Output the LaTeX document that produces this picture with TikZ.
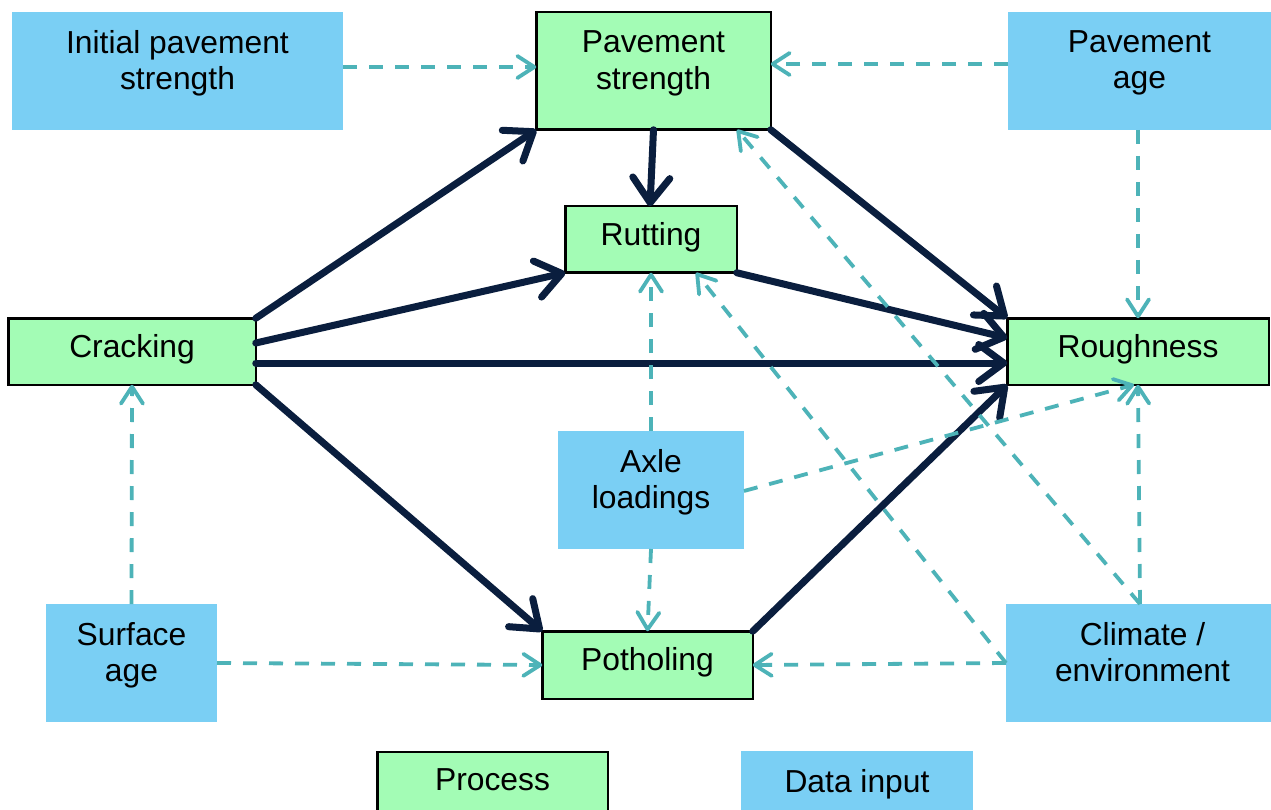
\documentclass[tikz,border=0pt]{standalone}
\usepackage{fontspec}
\setmainfont{Liberation Sans}
\usetikzlibrary{arrows.meta}
\definecolor{procgreen}{RGB}{163,252,181}
\definecolor{datablue}{RGB}{122,207,244}
\definecolor{navyarrow}{RGB}{10,30,62}
\definecolor{tealdash}{RGB}{77,179,184}
\tikzset{
  boxbase/.style={rectangle, outer sep=0pt, inner sep=0pt},
  procbox/.style={boxbase, fill=procgreen, draw=black, line width=2.5pt},
  databox/.style={boxbase, fill=datablue},
  boxtext/.style={font=\fontsize{31.8}{36.5}\selectfont, align=center, anchor=north, inner sep=0pt, text=black},
  causal/.style={draw=navyarrow, line width=7pt, line cap=round, -{Straight Barb[length=25pt,width=37pt,round]}},
  influence/.style={draw=tealdash, line width=3.8pt, dash pattern=on 14pt off 12pt, -{Straight Barb[length=17pt,width=22pt,round]}},
}
\begin{document}
\begin{tikzpicture}[x=1pt,y=-1pt]
\useasboundingbox (0,0) rectangle (1271,810);
\clip (0,0) rectangle (1271,810);
\fill[white] (0,0) rectangle (1271,810);

% data input boxes
\node[databox, minimum width=331pt, minimum height=118pt] (init) at (177.5,71) {};
\node[databox, minimum width=263pt, minimum height=118pt] (page) at (1139.5,71) {};
\node[databox, minimum width=186pt, minimum height=118pt] (axle) at (651,490) {};
\node[databox, minimum width=171pt, minimum height=118pt] (surf) at (131.5,663) {};
\node[databox, minimum width=265pt, minimum height=118pt] (clim) at (1138.5,663) {};
\node[databox, minimum width=232pt, minimum height=69pt] (legdata) at (857,785.5) {};

% process boxes
\node[procbox, minimum width=234.5pt, minimum height=117.5pt] (ps) at (653.5,71) {};
\node[procbox, minimum width=171.5pt, minimum height=66.5pt] (rut) at (651,239.5) {};
\node[procbox, minimum width=247.5pt, minimum height=66.5pt] (crack) at (132,351.5) {};
\node[procbox, minimum width=261.5pt, minimum height=66.5pt] (rough) at (1138,351.5) {};
\node[procbox, minimum width=210.5pt, minimum height=67.5pt] (poth) at (647.5,665) {};
\node[procbox, minimum width=230.5pt, minimum height=69pt] (legproc) at (492.5,786.5) {};

% causal (process) connectors
\draw[causal] (crack.north east) -- (ps.south west);
\draw[causal] ([yshift=8.5pt]crack.east) -- (rut.south west);
\draw[causal] ([yshift=-11.5pt]crack.east) -- ([yshift=-11.5pt]rough.west);
\draw[causal] (crack.south east) -- (poth.north west);
\draw[causal] (ps.south) -- ([xshift=-1pt]rut.north);
\draw[causal] (ps.south east) -- (rough.north west);
\draw[causal] (rut.south east) -- ([yshift=13.5pt]rough.west);
\draw[causal] (poth.north east) -- (rough.south west);

% data input connectors
\draw[influence] ([yshift=4pt]init.east) -- ([yshift=4pt]ps.west);
\draw[influence] ([yshift=7pt]page.west) -- ([yshift=7pt]ps.east);
\draw[influence] ([xshift=-1.5pt]page.south) -- (rough.north);
\draw[influence] (axle.north) -- (rut.south);
\draw[influence] (axle.south) -- (poth.north);
\draw[influence] ([yshift=-1pt]axle.east) -- ([xshift=-4pt]rough.south);
\draw[influence] ([xshift=1.5pt]clim.north) -- (rough.south);
\draw[influence] ([xshift=1.5pt]clim.north) -- ([xshift=83.5pt]ps.south);
\draw[influence] (clim.west) -- ([xshift=45pt]rut.south);
\draw[influence] (clim.west) -- (poth.east);
\draw[influence] (surf.north) -- (crack.south);
\draw[influence] (surf.east) -- (poth.west);

% texts
\node[boxtext] (init-t) at ([yshift=-18pt]init.north) {Initial pavement\\strength};
\node[boxtext] (page-t) at ([yshift=-18pt]page.north) {Pavement\\age};
\node[boxtext] (axle-t) at ([yshift=-18pt]axle.north) {Axle\\loadings};
\node[boxtext] (surf-t) at ([yshift=-18pt]surf.north) {Surface\\age};
\node[boxtext] (clim-t) at ([xshift=4pt,yshift=-18pt]clim.north) {Climate /\\environment};
\node[boxtext] (legdata-t) at ([yshift=-18pt]legdata.north) {Data input};
\node[boxtext] (ps-t) at ([yshift=-18.5pt]ps.north) {Pavement\\strength};
\node[boxtext] (rut-t) at ([yshift=-16.5pt]rut.north) {Rutting};
\node[boxtext] (crack-t) at ([yshift=-16.5pt]crack.north) {Cracking};
\node[boxtext] (rough-t) at ([yshift=-16.5pt]rough.north) {Roughness};
\node[boxtext] (poth-t) at ([yshift=-16.5pt]poth.north) {Potholing};
\node[boxtext] (legproc-t) at ([yshift=-16.5pt]legproc.north) {Process};
\end{tikzpicture}
\end{document}
